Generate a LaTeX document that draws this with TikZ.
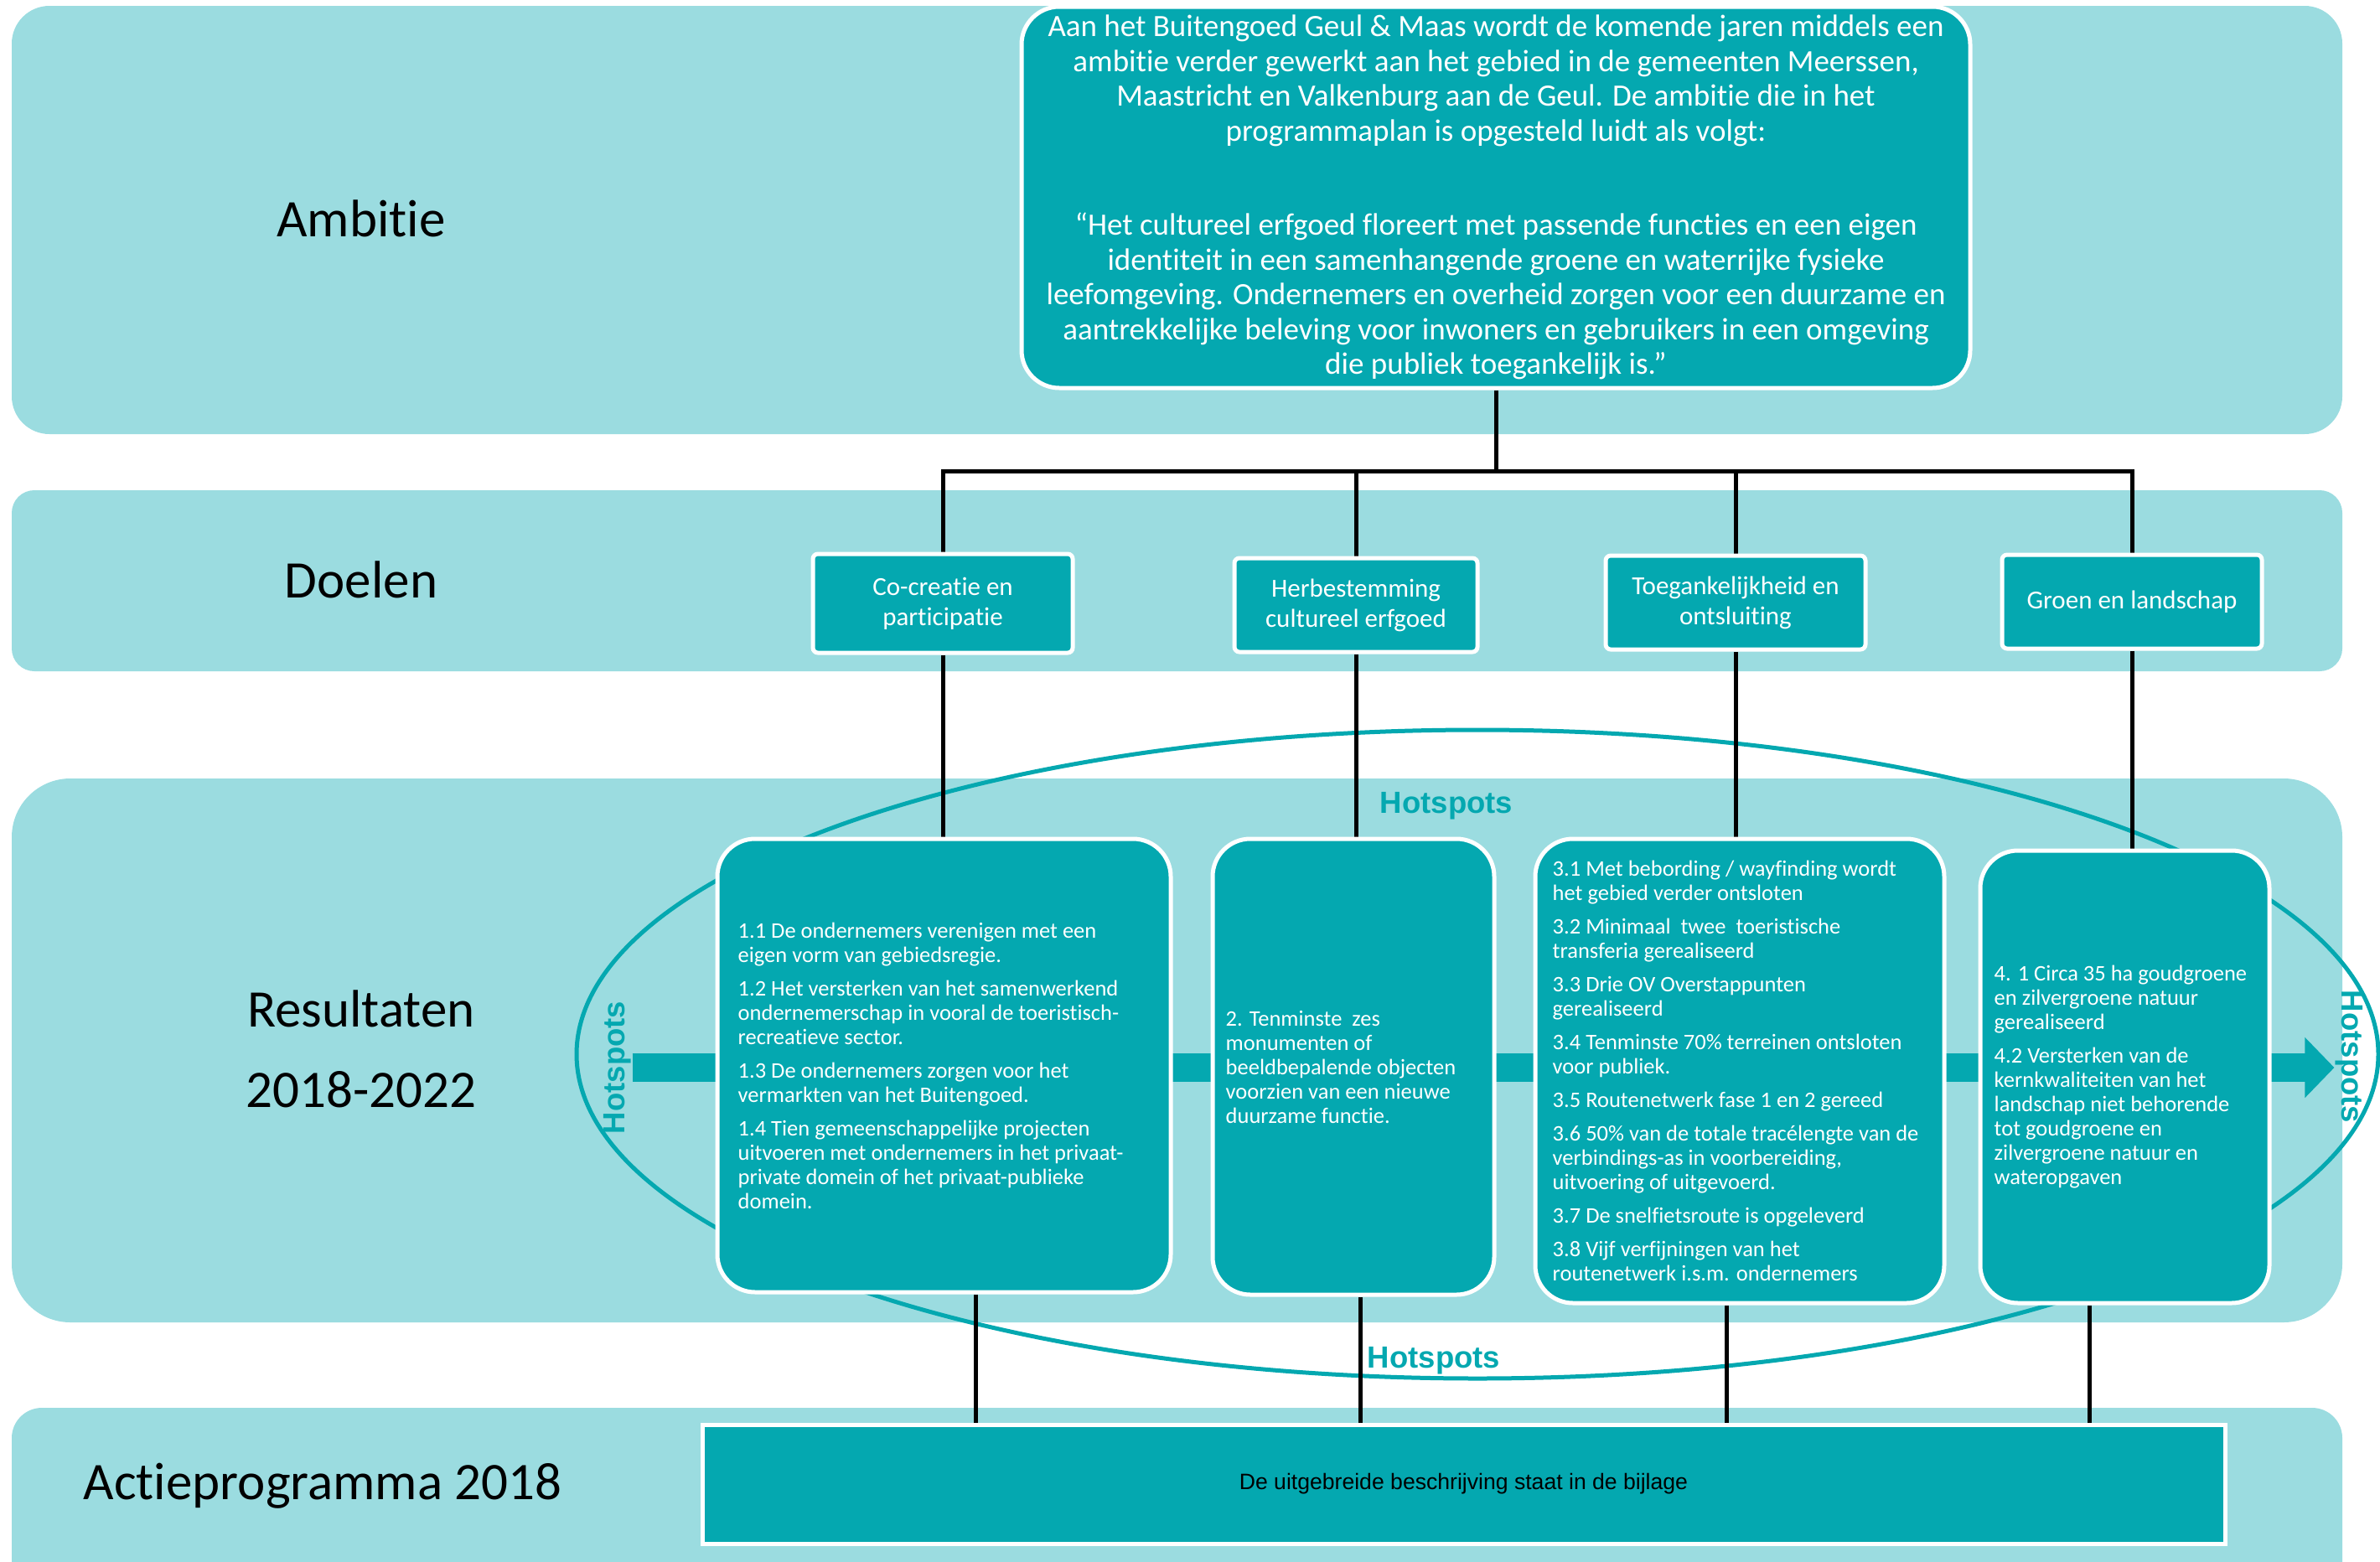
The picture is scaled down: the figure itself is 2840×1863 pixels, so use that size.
\documentclass[tikz,border=0pt]{standalone}
\usepackage{fontspec}
\setmainfont{Carlito}[Ligatures=NoCommon]
\newfontfamily\arialfont{Liberation Sans}
\usetikzlibrary{arrows.meta,backgrounds}

\definecolor{bandblue}{RGB}{155,220,224}
\definecolor{geulteal}{RGB}{4,168,176}

\tikzset{
  band/.style={fill=bandblue,rounded corners=#1},
  rowlabel/.style={align=center,font=\fontsize{63}{96}\selectfont},
  ambbox/.style={draw=white,line width=5,fill=geulteal,rounded corners=45,text=white,align=center,font=\fontsize{37}{41.5}\selectfont},
  doelbox/.style={draw=white,line width=5,fill=geulteal,rounded corners=6,text=white,align=center,minimum width=310,minimum height=112,font=\fontsize{31}{36}\selectfont},
  resbox/.style={draw=white,line width=5,fill=geulteal,rounded corners=45},
  restext/.style={anchor=west,inner sep=0,text=white,align=left,font=\fontsize{26.5}{29}\selectfont},
  hotlabel/.style={inner sep=1,text=geulteal,font=\arialfont\bfseries\fontsize{36.5}{40}\selectfont},
  actbox/.style={draw=white,line width=5,fill=geulteal,font=\arialfont\fontsize{26.6}{30}\selectfont},
  link/.style={line width=5}
}

\begin{document}
\begin{tikzpicture}[x=1pt,y=-1pt]
\useasboundingbox (0,0) rectangle (2840,1863);

%Rows
\node (lamb)  at (431,261)  [rowlabel] {Ambitie};
\node (ldoel) at (431,692)  [rowlabel] {Doelen};
\node (lres)  at (431,1252) [rowlabel] {Resultaten\\2018-2022};
\node (lact)  at (385,1773) [rowlabel] {Actieprogramma 2018};

%Ambitie
\node (amb) at (1785,235.5) [ambbox,minimum width=1132,minimum height=455] {Aan het Buitengoed Geul \& Maas wordt de komende jaren middels een\\ambitie verder gewerkt aan het gebied in de gemeenten Meerssen,\\Maastricht en Valkenburg aan de Geul. De ambitie die in het\\programmaplan is opgesteld luidt als volgt:\\[71pt]“Het cultureel erfgoed floreert met passende functies en een eigen\\identiteit in een samenhangende groene en waterrijke fysieke\\leefomgeving. Ondernemers en overheid zorgen voor een duurzame en\\aantrekkelijke beleving voor inwoners en gebruikers in een omgeving\\die publiek toegankelijk is.”};

%Doelen
\node (d1) at (1125,720) [doelbox,minimum height=118] {Co-creatie en\\participatie};
\node (d2) at (1618,722) [doelbox,minimum width=290] {Herbestemming\\cultureel erfgoed};
\node (d3) at (2071,719) [doelbox] {Toegankelijkheid en\\ontsluiting};
\node (d4) at (2544,718) [doelbox] {Groen en landschap};

%Resultaten
\node (r1) at (1126.5,1271.5) [resbox,minimum width=541,minimum height=541] {};
\node (r2) at (1615,1273) [resbox,minimum width=336,minimum height=544] {};
\node (r3) at (2076,1278) [resbox,minimum width=488,minimum height=554] {};
\node (r4) at (2535.5,1285) [resbox,minimum width=345,minimum height=540] {};

\node (r1txt) at ([xshift=27pt]r1.west) [restext] {1.1 De ondernemers verenigen met een\\eigen vorm van gebiedsregie.\\[11pt]1.2 Het versterken van het samenwerkend\\ondernemerschap in vooral de toeristisch-\\recreatieve sector.\\[11pt]1.3 De ondernemers zorgen voor het\\vermarkten van het Buitengoed.\\[11pt]1.4 Tien gemeenschappelijke projecten\\uitvoeren met ondernemers in het privaat-\\private domein of het privaat-publieke\\domein.};
\node (r2txt) at ([xshift=18pt]r2.west) [restext] {2. Tenminste\ \ zes\\monumenten of\\beeldbepalende objecten\\voorzien van een nieuwe\\duurzame functie.};
\node (r3txt) at ([xshift=23pt]r3.west) [restext] {3.1 Met bebording / wayfinding wordt\\het gebied verder ontsloten\\[11pt]3.2 Minimaal\ \ twee\ \ toeristische\\transferia gerealiseerd\\[11pt]3.3 Drie OV Overstappunten\\gerealiseerd\\[11pt]3.4 Tenminste 70\% terreinen ontsloten\\voor publiek.\\[11pt]3.5 Routenetwerk fase 1 en 2 gereed\\[11pt]3.6 50\% van de totale tracélengte van de\\verbindings-as in voorbereiding,\\uitvoering of uitgevoerd.\\[11pt]3.7 De snelfietsroute is opgeleverd\\[11pt]3.8 Vijf verfijningen van het\\routenetwerk i.s.m. ondernemers};
\node (r4txt) at ([xshift=19pt]r4.west) [restext] {4. 1 Circa 35 ha goudgroene\\en zilvergroene natuur\\gerealiseerd\\[11pt]4.2 Versterken van de\\kernkwaliteiten van het\\landschap niet behorende\\tot goudgroene en\\zilvergroene natuur en\\wateropgaven};

%Hotspots
\node (hsT) at (1726,962)  [hotlabel] {Hotspots};
\node (hsB) at (1711,1624) [hotlabel] {Hotspots};
\node (hsL) at (737,1274)  [hotlabel,rotate=90] {Hotspots};
\node (hsR) at (2803,1261) [hotlabel,rotate=-90] {Hotspots};

%Actieprogramma
\node (act) at (1746.5,1771) [actbox,minimum width=1817,minimum height=142] {De uitgebreide beschrijving staat in de bijlage};

\begin{scope}[on background layer]
\fill[band=45] (14,7) rectangle (2795,518);
\fill[band=27] (14,585) rectangle (2795,801);
\fill[band=70] (14,929) rectangle (2795,1578);
\fill[band=36] (14,1680) rectangle (2795,1930);

\draw[geulteal,line width=5] (1763,1258) ellipse [x radius=1075,y radius=387];
\draw[geulteal,line width=34,-{Triangle[length=35pt,width=70pt]}] (hsL.south) -- (hsL.south -| hsR.south);

%from Ambitie to Doelen
\coordinate (split) at (1785,562);
\draw[link] (amb.south) -- (split);
\draw[link] (split) -| (d1.north);
\draw[link] (split) -| (d2.north);
\draw[link] (split) -| (d3.north);
\draw[link] (split) -| (d4.north);

%from Doelen to Resultaten
\draw[link] (d1.south) -- (d1.south |- r1.north);
\draw[link] (d2.south) -- (d2.south |- r2.north);
\draw[link] (d3.south) -- (d3.south |- r3.north);
\draw[link] (d4.south) -- (d4.south |- r4.north);

%from Resultaten to Actieprogramma
\draw[link] ([xshift=37.5pt]r1.south) -- ([xshift=37.5pt]r1.south |- act.north);
\draw[link] ([xshift=8pt]r2.south) -- ([xshift=8pt]r2.south |- act.north);
\draw[link] ([xshift=-16pt]r3.south) -- ([xshift=-16pt]r3.south |- act.north);
\draw[link] ([xshift=-42.5pt]r4.south) -- ([xshift=-42.5pt]r4.south |- act.north);
\end{scope}

\end{tikzpicture}
\end{document}
